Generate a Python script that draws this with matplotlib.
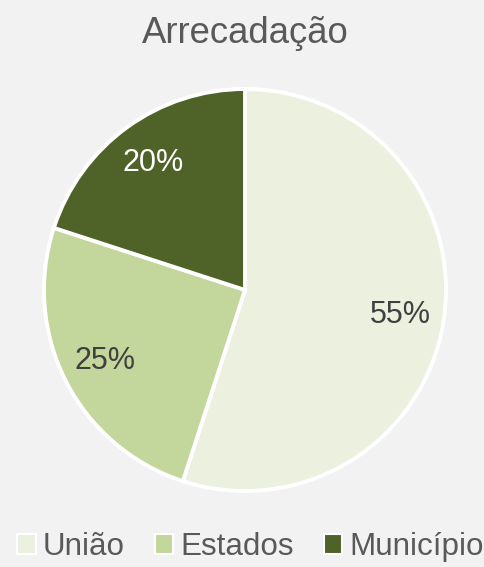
import matplotlib.pyplot as plt

# Arrecadação por esfera
labels = ["União", "Estados", "Município"]
shares = [55, 25, 20]
colors = ["#EBF1DE", "#C3D69B", "#4F6228"]
title = "Arrecadação"

plt.rcParams['font.family'] = ['Liberation Sans', 'DejaVu Sans']

fig = plt.figure(figsize=(4.85, 5.67), dpi=100, facecolor="#F2F2F2")
ax = fig.add_axes([42 / 485, 74 / 567, 406 / 485, 406 / 567])
ax.set_facecolor("#F2F2F2")

wedges, texts, autotexts = ax.pie(
    shares, colors=colors, startangle=90, counterclock=False,
    autopct="%d%%", pctdistance=0.78, radius=1,
    wedgeprops=dict(edgecolor="white", linewidth=2.8),
    textprops=dict(fontsize=22, color="#404040"),
)
autotexts[2].set_color("white")
ax.set_xlim(-1.01, 1.01)
ax.set_ylim(-1.01, 1.01)
ax.set_aspect("equal")
ax.axis("off")

fig.text(245 / 485, 1 - 43 / 567, title, ha="center", va="baseline",
         fontsize=26.3, color="#595959")

leg = fig.legend(wedges, labels, loc="center left", bbox_to_anchor=(17 / 485, 1 - 547 / 567),
                 ncol=3, frameon=False, fontsize=22.6, labelcolor="#595959",
                 handlelength=0.6, handleheight=0.6, handletextpad=0.22,
                 columnspacing=0.95, borderpad=0, borderaxespad=0)
for h in leg.legend_handles:
    h.set_linewidth(1.5)

fig.savefig("out.png", dpi=100, facecolor=fig.get_facecolor())
